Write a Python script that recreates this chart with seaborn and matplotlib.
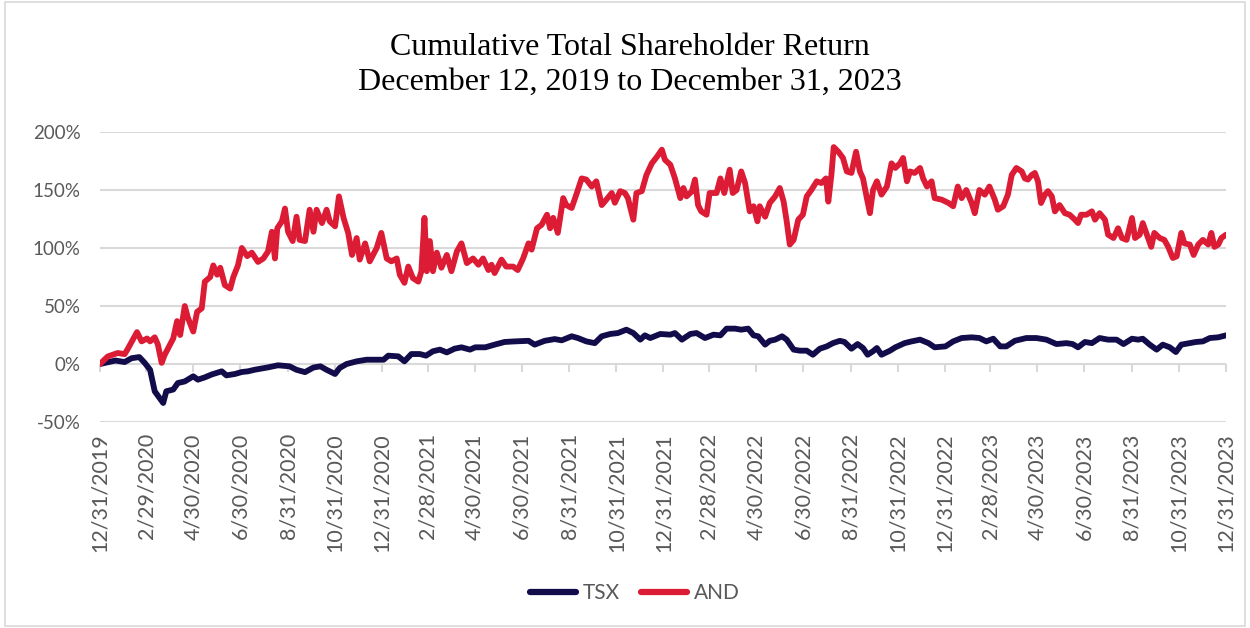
#!/usr/bin/env python3
"""
Cumulative total shareholder return, TSX vs AND, Dec 2019 - Dec 2023.
"""

import pandas as pd
import matplotlib
matplotlib.use('Agg')
import matplotlib.pyplot as plt
from matplotlib.lines import Line2D
from matplotlib.patches import Rectangle
import seaborn as sns

# ---- data (cumulative return, %) ----
tsx_dates = [
    "2019-12-31", "2020-01-20", "2020-02-01", "2020-02-10", "2020-02-20", "2020-02-27",
    "2020-03-05", "2020-03-11", "2020-03-17", "2020-03-22", "2020-03-26", "2020-04-04",
    "2020-04-10", "2020-04-19", "2020-04-30", "2020-05-06", "2020-05-15", "2020-05-24",
    "2020-06-06", "2020-06-12", "2020-06-23", "2020-07-02", "2020-07-10", "2020-07-19",
    "2020-08-05", "2020-08-18", "2020-09-02", "2020-09-11", "2020-09-22", "2020-10-03",
    "2020-10-12", "2020-10-20", "2020-10-31", "2020-11-06", "2020-11-15", "2020-11-28",
    "2020-12-11", "2020-12-24", "2021-01-02", "2021-01-08", "2021-01-21", "2021-01-29",
    "2021-02-07", "2021-02-18", "2021-02-26", "2021-03-07", "2021-03-16", "2021-03-25",
    "2021-04-04", "2021-04-13", "2021-04-24", "2021-05-01", "2021-05-14", "2021-05-26",
    "2021-06-08", "2021-06-21", "2021-07-09", "2021-07-17", "2021-07-30", "2021-08-12",
    "2021-08-21", "2021-09-03", "2021-09-11", "2021-09-22", "2021-10-03", "2021-10-12",
    "2021-10-23", "2021-11-02", "2021-11-13", "2021-11-22", "2021-12-01", "2021-12-07",
    "2021-12-14", "2021-12-27", "2022-01-09", "2022-01-15", "2022-01-24", "2022-02-04",
    "2022-02-12", "2022-02-23", "2022-03-06", "2022-03-15", "2022-03-23", "2022-04-03",
    "2022-04-11", "2022-04-20", "2022-04-27", "2022-05-03", "2022-05-12", "2022-05-18",
    "2022-05-25", "2022-06-03", "2022-06-09", "2022-06-18", "2022-06-26", "2022-07-05",
    "2022-07-13", "2022-07-22", "2022-07-31", "2022-08-08", "2022-08-17", "2022-08-23",
    "2022-09-01", "2022-09-09", "2022-09-16", "2022-09-22", "2022-09-29", "2022-10-04",
    "2022-10-10", "2022-10-21", "2022-10-28", "2022-11-09", "2022-11-18", "2022-11-29",
    "2022-12-10", "2022-12-18", "2023-01-01", "2023-01-11", "2023-01-22", "2023-02-04",
    "2023-02-14", "2023-02-23", "2023-03-04", "2023-03-13", "2023-03-21", "2023-04-01",
    "2023-04-16", "2023-04-29", "2023-05-12", "2023-05-25", "2023-06-07", "2023-06-15",
    "2023-06-22", "2023-07-01", "2023-07-10", "2023-07-20", "2023-07-31", "2023-08-11",
    "2023-08-20", "2023-08-31", "2023-09-08", "2023-09-14", "2023-09-23", "2023-10-02",
    "2023-10-10", "2023-10-19", "2023-10-27", "2023-11-03", "2023-11-14", "2023-11-22",
    "2023-12-01", "2023-12-10", "2023-12-21", "2023-12-31",
]
tsx_values = [
    0, 3, 1.7, 5, 6, 1,
    -5, -23.5, -29, -33.6, -23.5, -22,
    -16.4, -15, -10.6, -13.5, -11.5, -9,
    -6.3, -9.8, -8.6, -6.9, -6.3, -4.9,
    -2.9, -1.1, -2, -5, -7, -3,
    -2, -5, -8.6, -3.4, 0, 2.3,
    3.7, 3.7, 3.7, 7.2, 6.6, 2.3,
    8.6, 8.6, 7.2, 11, 12.4, 10,
    13.2, 14.4, 12.4, 14.4, 14.4, 16.7,
    19, 19.5, 20, 16.7, 20, 21.5,
    20.4, 23.9, 22.4, 19.5, 18, 23.9,
    25.9, 26.7, 29.6, 26.7, 21, 24.7,
    22.4, 25.9, 25.3, 26.7, 21, 25.9,
    26.7, 22.4, 25.3, 24.7, 30.5, 30.5,
    29.6, 30.5, 24.7, 23.9, 16.7, 20,
    21, 23.9, 21, 12.4, 11.5, 11.5,
    8, 13.2, 15.2, 18, 20, 19,
    13.2, 17.2, 13.8, 8, 11, 13.8,
    8, 11.5, 14.4, 18, 19.5, 21,
    18, 14.4, 15.2, 19.5, 22.4, 23,
    22.4, 19.5, 21.8, 15.2, 15.2, 20,
    22.4, 22.4, 21, 17.2, 18, 17.2,
    14.4, 19, 18, 22.4, 21, 21,
    17.2, 21.8, 21, 21.8, 16.7, 12.4,
    16.7, 14.4, 10.3, 16.7, 18, 19,
    19.5, 22.4, 23, 24.7,
]

and_dates = [
    "2019-12-31", "2020-01-10", "2020-01-23", "2020-02-01", "2020-02-05", "2020-02-17",
    "2020-02-23", "2020-03-01", "2020-03-05", "2020-03-11", "2020-03-15", "2020-03-20",
    "2020-03-24", "2020-03-31", "2020-04-04", "2020-04-09", "2020-04-13", "2020-04-19",
    "2020-04-23", "2020-04-30", "2020-05-05", "2020-05-11", "2020-05-15", "2020-05-22",
    "2020-05-26", "2020-05-31", "2020-06-04", "2020-06-10", "2020-06-17", "2020-06-21",
    "2020-06-27", "2020-07-02", "2020-07-09", "2020-07-15", "2020-07-23", "2020-07-30",
    "2020-08-05", "2020-08-10", "2020-08-14", "2020-08-17", "2020-08-23", "2020-08-27",
    "2020-08-31", "2020-09-06", "2020-09-11", "2020-09-15", "2020-09-22", "2020-09-28",
    "2020-10-03", "2020-10-07", "2020-10-14", "2020-10-20", "2020-10-24", "2020-10-31",
    "2020-11-05", "2020-11-11", "2020-11-17", "2020-11-22", "2020-11-28", "2020-12-02",
    "2020-12-09", "2020-12-15", "2020-12-24", "2020-12-30", "2021-01-06", "2021-01-12",
    "2021-01-19", "2021-01-23", "2021-01-29", "2021-02-03", "2021-02-09", "2021-02-16",
    "2021-02-20", "2021-02-24", "2021-02-27", "2021-03-03", "2021-03-07", "2021-03-12",
    "2021-03-18", "2021-03-25", "2021-03-31", "2021-04-07", "2021-04-13", "2021-04-20",
    "2021-04-28", "2021-05-05", "2021-05-11", "2021-05-18", "2021-05-22", "2021-05-26",
    "2021-06-04", "2021-06-10", "2021-06-19", "2021-06-25", "2021-07-02", "2021-07-09",
    "2021-07-13", "2021-07-20", "2021-07-26", "2021-08-02", "2021-08-06", "2021-08-10",
    "2021-08-16", "2021-08-23", "2021-08-27", "2021-09-03", "2021-09-09", "2021-09-16",
    "2021-09-22", "2021-09-29", "2021-10-05", "2021-10-12", "2021-10-18", "2021-10-25",
    "2021-10-29", "2021-11-05", "2021-11-11", "2021-11-15", "2021-11-22", "2021-11-26",
    "2021-12-03", "2021-12-09", "2021-12-16", "2021-12-23", "2021-12-29", "2022-01-02",
    "2022-01-09", "2022-01-15", "2022-01-22", "2022-01-26", "2022-01-30", "2022-02-06",
    "2022-02-10", "2022-02-14", "2022-02-18", "2022-02-25", "2022-03-01", "2022-03-10",
    "2022-03-15", "2022-03-20", "2022-03-27", "2022-03-31", "2022-04-05", "2022-04-11",
    "2022-04-16", "2022-04-22", "2022-04-27", "2022-05-02", "2022-05-05", "2022-05-12",
    "2022-05-18", "2022-05-25", "2022-05-31", "2022-06-05", "2022-06-09", "2022-06-13",
    "2022-06-18", "2022-06-24", "2022-06-30", "2022-07-05", "2022-07-11", "2022-07-18",
    "2022-07-24", "2022-07-30", "2022-08-02", "2022-08-06", "2022-08-09", "2022-08-15",
    "2022-08-21", "2022-08-26", "2022-09-01", "2022-09-07", "2022-09-12", "2022-09-16",
    "2022-09-21", "2022-09-25", "2022-09-29", "2022-10-04", "2022-10-10", "2022-10-17",
    "2022-10-23", "2022-10-28", "2022-11-03", "2022-11-07", "2022-11-12", "2022-11-16",
    "2022-11-22", "2022-11-29", "2022-12-03", "2022-12-08", "2022-12-14", "2022-12-18",
    "2022-12-27", "2023-01-05", "2023-01-11", "2023-01-17", "2023-01-22", "2023-01-28",
    "2023-02-04", "2023-02-08", "2023-02-14", "2023-02-21", "2023-02-27", "2023-03-06",
    "2023-03-10", "2023-03-17", "2023-03-23", "2023-03-28", "2023-04-03", "2023-04-10",
    "2023-04-14", "2023-04-18", "2023-04-23", "2023-04-27", "2023-05-01", "2023-05-05",
    "2023-05-10", "2023-05-14", "2023-05-19", "2023-05-23", "2023-05-29", "2023-06-05",
    "2023-06-11", "2023-06-18", "2023-06-22", "2023-06-26", "2023-07-03", "2023-07-10",
    "2023-07-14", "2023-07-20", "2023-07-27", "2023-07-31", "2023-08-07", "2023-08-13",
    "2023-08-18", "2023-08-24", "2023-08-31", "2023-09-04", "2023-09-10", "2023-09-14",
    "2023-09-21", "2023-09-25", "2023-09-29", "2023-10-06", "2023-10-12", "2023-10-17",
    "2023-10-23", "2023-10-28", "2023-11-03", "2023-11-07", "2023-11-14", "2023-11-19",
    "2023-11-25", "2023-12-01", "2023-12-08", "2023-12-12", "2023-12-16", "2023-12-21",
    "2023-12-25", "2023-12-31",
]
and_values = [
    0, 6.5, 9.5, 8.5, 13, 27.5,
    19.5, 22, 19.5, 23, 17, 1,
    8, 17, 22, 37, 25, 50,
    40, 28, 45, 48, 71, 75,
    85, 77, 83, 68, 65, 75,
    85, 100, 93, 96, 88, 91,
    97, 114, 91, 117, 123, 134,
    114, 106, 127, 107, 106, 133,
    114, 133, 121.5, 133, 123, 118.7,
    144.5, 126, 113, 94, 108.6, 90,
    104, 88.5, 100, 113, 91, 88.5,
    91, 77, 70, 84, 74, 71,
    80, 126, 80, 106, 80, 96,
    83, 94, 80, 97, 104, 87,
    91, 85.6, 91, 81, 85.6, 78.4,
    90, 84, 84, 81, 91, 104,
    98.6, 117, 120, 128.7, 117, 126,
    113, 143, 137, 134.5, 146, 160,
    159, 153, 157.5, 137, 141.7, 147.4,
    139, 149, 147.4, 143, 124.4, 147.4,
    149, 163, 173, 179, 184.8, 176,
    171.8, 160, 143, 151.7, 144.5, 148.9,
    159, 137, 131.6, 128.7, 147.4, 147.4,
    160, 147.4, 167.5, 147.4, 150, 166,
    156, 131.6, 136, 123, 136, 127,
    138.8, 144.5, 151.7, 140, 123, 103,
    107, 124.4, 128.7, 144.5, 150, 157.5,
    156, 160, 140, 163, 187, 183,
    177.6, 166, 164.7, 183, 166, 160,
    143, 130, 150, 157.5, 146, 153,
    173, 169, 173, 177.6, 157.5, 166,
    164.7, 169, 160, 153, 157.5, 143,
    141.7, 138.8, 136, 153, 143, 150,
    138.8, 130, 150, 146, 153, 141.7,
    133, 136, 146, 163, 169, 166,
    160, 159, 163, 164.7, 157.5, 138.8,
    146, 149, 144.5, 131.6, 137, 130,
    128.7, 124.4, 121.5, 128.7, 128.7, 131.6,
    124.4, 130, 124.4, 111.5, 108.6, 117,
    108.6, 107, 125.9, 108.6, 111.5, 121.5,
    108.6, 101, 113, 108.6, 107, 101,
    91.4, 92.8, 113, 104, 103, 94,
    103, 107, 103, 113, 101, 103,
    108.6, 111.5,
]

series_names = ["TSX", "AND"]
series_colors = ["#120d4a", "#dc1c35"]

x_tick_labels = [
    "12/31/2019", "2/29/2020", "4/30/2020", "6/30/2020", "8/31/2020", "10/31/2020",
    "12/31/2020", "2/28/2021", "4/30/2021", "6/30/2021", "8/31/2021", "10/31/2021",
    "12/31/2021", "2/28/2022", "4/30/2022", "6/30/2022", "8/31/2022", "10/31/2022",
    "12/31/2022", "2/28/2023", "4/30/2023", "6/30/2023", "8/31/2023", "10/31/2023",
    "12/31/2023",
]
y_ticks = [-50, 0, 50, 100, 150, 200]
y_tick_labels = ["-50%", "0%", "50%", "100%", "150%", "200%"]

title_text = "Cumulative Total Shareholder Return\nDecember 12, 2019 to December 31, 2023"

GREY_TEXT = "#595959"
GRID = "#d9d9d9"


def main():
    df = pd.concat([
        pd.DataFrame({"Date": pd.to_datetime(tsx_dates), "Return": tsx_values, "Series": "TSX"}),
        pd.DataFrame({"Date": pd.to_datetime(and_dates), "Return": and_values, "Series": "AND"}),
    ], ignore_index=True)

    sns.set_theme(style="white")
    plt.rcParams["font.family"] = ["Lato", "DejaVu Sans"]

    fig = plt.figure(figsize=(12.5, 6.28), dpi=100)
    ax = fig.add_axes([0.08, 0.328, 0.9008, 0.4618])

    palette = dict(zip(series_names, series_colors))
    sns.lineplot(
        data=df, x="Date", y="Return", hue="Series", hue_order=series_names,
        palette=palette, estimator=None, sort=True, linewidth=4.2,
        legend=False, ax=ax,
    )
    for line in ax.get_lines():
        line.set_solid_joinstyle("round")
        line.set_solid_capstyle("round")

    tick_dates = pd.to_datetime(x_tick_labels, format="%m/%d/%Y")
    ax.set_xlim(tick_dates[0], tick_dates[-1])
    ax.set_ylim(-50, 200)

    ax.set_yticks(y_ticks)
    ax.set_yticklabels(y_tick_labels)
    ax.yaxis.grid(True, color=GRID, linewidth=1.5)
    ax.xaxis.grid(False)
    ax.set_axisbelow(True)
    for s in ax.spines.values():
        s.set_visible(False)

    ax.set_xticks(tick_dates)
    ax.set_xticklabels(x_tick_labels, rotation=90)
    ax.tick_params(axis="x", length=0, pad=8, labelsize=15.5, labelcolor=GREY_TEXT)
    ax.tick_params(axis="y", length=0, pad=14, labelsize=13.5, labelcolor=GREY_TEXT)
    ax.set_xlabel("")
    ax.set_ylabel("")

    # category axis crossing at 0% with small tick marks
    zero_frac = (0 - y_ticks[0]) / (y_ticks[-1] - y_ticks[0])
    sec = ax.secondary_xaxis(zero_frac)
    sec.set_xticks(tick_dates)
    sec.tick_params(axis="x", length=6, width=1.5, color=GRID, labelbottom=False)
    sec.spines["bottom"].set_visible(False)

    fig.text(0.504, 0.897, title_text, ha="center", va="center",
             family=["Liberation Serif", "DejaVu Serif"], fontsize=23,
             linespacing=1.28, color="black")

    handles = [Line2D([0], [0], color=c, linewidth=4.5, solid_capstyle="round")
               for c in series_colors]
    fig.legend(handles, series_names, loc="center", bbox_to_anchor=(0.508, 0.056),
               ncol=2, frameon=False, fontsize=15, labelcolor=GREY_TEXT,
               handlelength=2.2, handletextpad=0.35, columnspacing=1.0)

    fig.patches.append(Rectangle((0.004, 0.003), 0.992, 0.994, transform=fig.transFigure,
                                 fill=False, edgecolor=GRID, linewidth=1.2))

    fig.savefig("out.png", dpi=100)
    plt.close(fig)


if __name__ == "__main__":
    main()
